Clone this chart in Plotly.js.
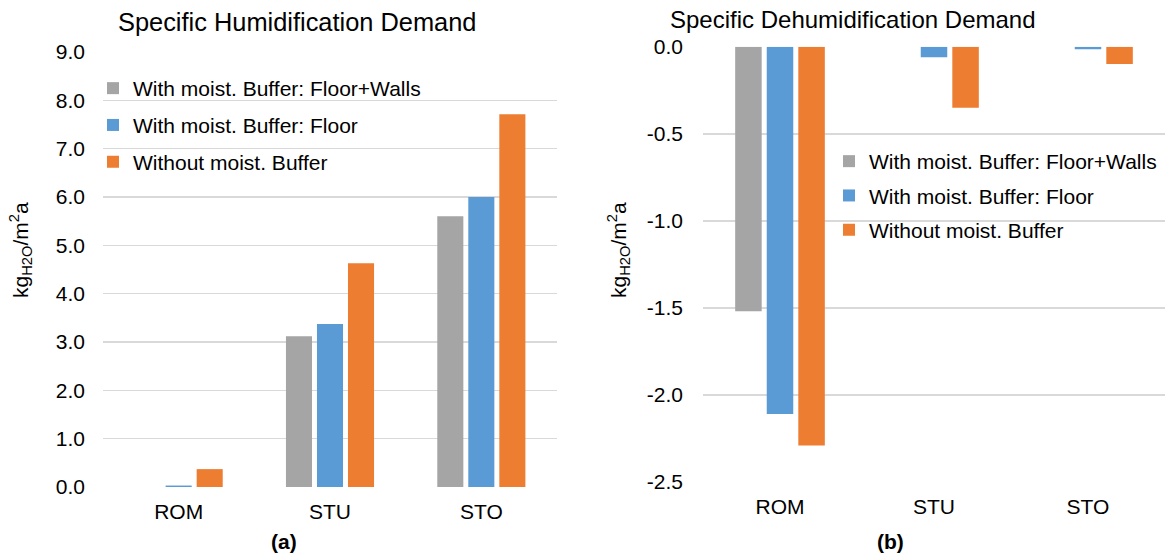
<!DOCTYPE html>
<html>
<head>
<meta charset="utf-8">
<script src="https://cdn.plot.ly/plotly-3.0.1.min.js"></script>
<style>
  html, body { margin: 0; padding: 0; background: #ffffff; }
  #chart { width: 1169px; height: 555px; }
</style>
</head>
<body>
<div id="chart"></div>
<script>
// Building types
const categories = ['ROM', 'STU', 'STO'];

// Series names
const seriesNames = [
  'With moist. Buffer: Floor+Walls',
  'With moist. Buffer: Floor',
  'Without moist. Buffer'
];

// Specific humidification demand, kg_H2O/m²a
const humFloorWalls = [0.00, 3.12, 5.60];
const humFloor      = [0.03, 3.37, 6.00];
const humNone       = [0.37, 4.63, 7.71];

// Specific dehumidification demand, kg_H2O/m²a
const dehumFloorWalls = [-1.52, 0.00, 0.00];
const dehumFloor      = [-2.11, -0.06, -0.015];
const dehumNone       = [-2.29, -0.35, -0.10];

// Axis tick labels
const humTickVals   = [0, 1, 2, 3, 4, 5, 6, 7, 8, 9];
const humTickText   = ['0.0', '1.0', '2.0', '3.0', '4.0', '5.0', '6.0', '7.0', '8.0', '9.0'];
const dehumTickVals = [-2.5, -2.0, -1.5, -1.0, -0.5, 0];
const dehumTickText = ['-2.5', '-2.0', '-1.5', '-1.0', '-0.5', '0.0'];

const colors = ['#A5A5A5', '#5B9BD5', '#ED7D31'];
const FONT = 'Liberation Sans, Arial, sans-serif';
const W = 1169, H = 555;
const px = v => v / W;          // horizontal pixel -> paper
const py = v => 1 - v / H;      // vertical pixel -> paper

const humSeries = [humFloorWalls, humFloor, humNone];
const dehumSeries = [dehumFloorWalls, dehumFloor, dehumNone];

const traces = [];
humSeries.forEach((vals, i) => {
  traces.push({
    type: 'bar', x: categories, y: vals, name: seriesNames[i],
    marker: { color: colors[i], line: { width: 0 } },
    xaxis: 'x', yaxis: 'y', legend: 'legend', legendgroup: 'h' + i,
    hoverinfo: 'x+y+name'
  });
});
dehumSeries.forEach((vals, i) => {
  traces.push({
    type: 'bar', x: categories, y: vals, name: seriesNames[i],
    marker: { color: colors[i], line: { width: 0 } },
    xaxis: 'x2', yaxis: 'y2', legend: 'legend2', legendgroup: 'd' + i,
    hoverinfo: 'x+y+name'
  });
});

const tickFont = { family: FONT, size: 21, color: '#000000' };
const gridColor = '#D9D9D9';

const legendBase = {
  xanchor: 'left', yanchor: 'top',
  bgcolor: 'rgba(0,0,0,0)', borderwidth: 0,
  font: { family: FONT, size: 21, color: '#000000' },
  traceorder: 'grouped', itemwidth: 30
};

const layout = {
  width: W, height: H,
  margin: { l: 0, r: 0, t: 0, b: 0 },
  paper_bgcolor: '#ffffff', plot_bgcolor: '#ffffff',
  barmode: 'group', bargap: 0.385, bargroupgap: 0.16,
  showlegend: true,
  font: { family: FONT, color: '#000000' },
  xaxis: {
    domain: [px(103), px(557)], anchor: 'y',
    showgrid: false, zeroline: false, showline: false, ticks: '',
    tickfont: tickFont, ticklabelstandoff: 10, fixedrange: true
  },
  yaxis: {
    domain: [py(487), py(52)], anchor: 'x',
    range: [0, 9], tickvals: humTickVals, ticktext: humTickText,
    showgrid: true, gridcolor: gridColor, gridwidth: 1.5,
    zeroline: false, showline: false, ticks: '',
    tickfont: tickFont, ticklabelstandoff: 17, fixedrange: true
  },
  xaxis2: {
    domain: [px(703), px(1165)], anchor: 'y2',
    showgrid: false, zeroline: false, showline: false, ticks: '',
    tickfont: tickFont, ticklabelstandoff: 10, fixedrange: true
  },
  yaxis2: {
    domain: [py(482), py(46.7)], anchor: 'x2',
    range: [-2.5, 0], tickvals: dehumTickVals, ticktext: dehumTickText,
    showgrid: true, gridcolor: gridColor, gridwidth: 1.5,
    zeroline: false, showline: false, ticks: '',
    tickfont: tickFont, ticklabelstandoff: 19, fixedrange: true
  },
  legend: Object.assign({}, legendBase, { x: px(93), y: py(68), tracegroupgap: 6.5 }),
  legend2: Object.assign({}, legendBase, { x: px(829), y: py(141), tracegroupgap: 4 }),
  annotations: [
    {
      text: 'Specific Humidification Demand', xref: 'paper', yref: 'paper',
      x: px(116), y: py(22), xanchor: 'left', yanchor: 'middle', showarrow: false,
      font: { family: FONT, size: 25.4, color: '#000000' }
    },
    {
      text: 'Specific Dehumidification Demand', xref: 'paper', yref: 'paper',
      x: px(1038), y: py(20), xanchor: 'right', yanchor: 'middle', showarrow: false,
      font: { family: FONT, size: 24, color: '#000000' }
    },
    {
      text: 'kg<sub>H2O</sub>/m<sup>2</sup>a', xref: 'paper', yref: 'paper',
      x: px(20), y: py(250), xanchor: 'center', yanchor: 'middle', textangle: -90,
      showarrow: false, font: { family: FONT, size: 21, color: '#000000' }
    },
    {
      text: 'kg<sub>H2O</sub>/m<sup>2</sup>a', xref: 'paper', yref: 'paper',
      x: px(618), y: py(250), xanchor: 'center', yanchor: 'middle', textangle: -90,
      showarrow: false, font: { family: FONT, size: 21, color: '#000000' }
    },
    {
      text: '<b>(a)</b>', xref: 'paper', yref: 'paper',
      x: px(284), y: py(541), xanchor: 'center', yanchor: 'middle', showarrow: false,
      font: { family: FONT, size: 21, color: '#000000' }
    },
    {
      text: '<b>(b)</b>', xref: 'paper', yref: 'paper',
      x: px(891), y: py(541), xanchor: 'center', yanchor: 'middle', showarrow: false,
      font: { family: FONT, size: 21, color: '#000000' }
    }
  ]
};

Plotly.newPlot('chart', traces, layout, { displayModeBar: false, staticPlot: true });
</script>
</body>
</html>
